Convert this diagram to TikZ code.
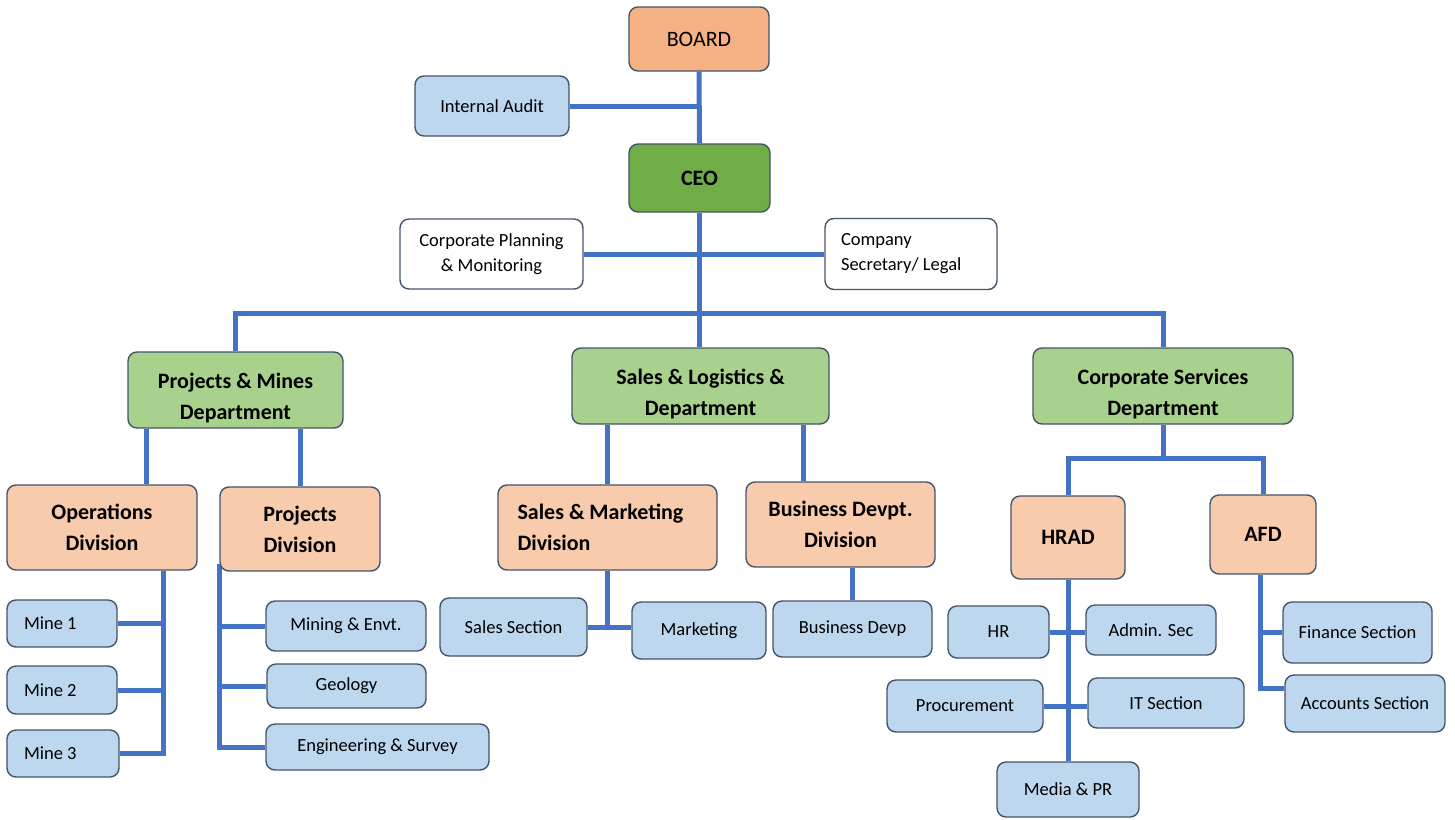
\documentclass[tikz,border=0pt]{standalone}
\usepackage{fontspec}
\setmainfont{Carlito}
\usetikzlibrary{backgrounds}
\definecolor{linec}{HTML}{4472C4}
\definecolor{bordc}{HTML}{44546A}
\definecolor{orgA}{HTML}{F4B183}
\definecolor{orgB}{HTML}{F8CBAD}
\definecolor{grnA}{HTML}{70AD47}
\definecolor{grnB}{HTML}{A9D18E}
\definecolor{bluA}{HTML}{BDD7EE}
\newcommand{\lowstrut}{\rule{0pt}{32pt}}
\begin{document}
\begin{tikzpicture}[x=1pt,y=-1pt,
  box/.style={draw=bordc, line width=1.4pt, rounded corners=9pt, align=center, inner sep=2pt,
    font=\fontsize{18.5}{25}\selectfont, text=black},
  bbox/.style={box, font=\fontsize{22}{31}\selectfont\bfseries},
  conn/.style={draw=linec, line width=5pt},
  sz/.style 2 args={minimum width=#1pt, minimum height=#2pt},
  lft/.style 2 args={text width=#1pt, align=flush left, inner xsep=#2pt},
]
\useasboundingbox (0,0) rectangle (1455,819);

% top
\node[box, fill=orgA, font=\fontsize{22}{26}\selectfont, sz={140}{64}] (board) at (699,39) {BOARD};
\node[box, fill=bluA, sz={154}{60}] (audit) at (492,106) {Internal Audit};
\node[bbox, fill=grnA, sz={141}{68}] (ceo) at (699.5,178) {CEO};
\node[box, fill=white, sz={183}{70}] (cpm) at (491.5,254) {Corporate Planning\\\& Monitoring};
\node[box, fill=white, sz={172}{71}, lft={140}{16}] (csl) at (911,254) {Company\\Secretary/ Legal};

% departments
\node[bbox, fill=grnB, sz={215}{76}] (pmd) at (235.5,390) {\lowstrut Projects \& Mines\\Department};
\node[bbox, fill=grnB, sz={257}{76}] (sld) at (700.5,386) {\lowstrut Sales \& Logistics \&\\Department};
\node[bbox, fill=grnB, sz={260}{76}] (csd) at (1163,386) {\lowstrut Corporate Services\\Department};

% divisions
\node[bbox, fill=orgB, sz={190}{85}] (opd) at (102,527.5) {Operations\\Division};
\node[bbox, fill=orgB, sz={160}{84}] (prd) at (300,529) {Projects\\Division};
\node[bbox, fill=orgB, sz={219}{85}, lft={180}{19.5}] (smd) at (607.5,527.5) {Sales \& Marketing\\Division};
\node[bbox, fill=orgB, sz={189}{85}] (bdd) at (840.5,524.5) {Business Devpt.\\Division};
\node[bbox, fill=orgB, sz={114}{83}] (hrad) at (1068,537.5) {HRAD};
\node[bbox, fill=orgB, sz={106}{79}] (afd) at (1263,534.5) {AFD};

% sections
\node[box, fill=bluA, sz={110}{47}, lft={76}{17}] (mine1) at (62,623.5) {Mine 1};
\node[box, fill=bluA, sz={110}{48}, lft={76}{17}] (mine2) at (62,690) {Mine 2};
\node[box, fill=bluA, sz={112}{47}, lft={78}{17}] (mine3) at (63,753.5) {Mine 3};
\node[box, fill=bluA, sz={160}{50}] (mining) at (346,626) {Mining \& Envt.};
\node[box, fill=bluA, sz={159}{44}] (geology) at (346.5,686) {Geology};
\node[box, fill=bluA, sz={223}{46}] (eng) at (377.5,747) {Engineering \& Survey};
\node[box, fill=bluA, sz={147}{58}] (sales) at (513.5,627) {Sales Section};
\node[box, fill=bluA, sz={134}{57}] (mkt) at (699,630.5) {Marketing};
\node[box, fill=bluA, sz={159}{56}] (busdevp) at (852.5,629) {Business Devp};
\node[box, fill=bluA, sz={101}{52}] (hr) at (998.5,632) {HR};
\node[box, fill=bluA, sz={130}{50}] (admin) at (1151,630) {Admin. Sec};
\node[box, fill=bluA, sz={156}{52}] (proc) at (965,706) {Procurement};
\node[box, fill=bluA, sz={156}{50}] (it) at (1166,703) {IT Section};
\node[box, fill=bluA, sz={142}{55}] (media) at (1068,789.5) {Media \& PR};
\node[box, fill=bluA, sz={149}{61}] (finance) at (1357.5,632.5) {Finance Section};
\node[box, fill=bluA, sz={160}{57}] (accounts) at (1365,703.5) {Accounts Section};

% helper coordinates
\coordinate (bus) at (700,313);
\coordinate (cbus) at (1163,458);
\coordinate (xo) at (146,0);
\coordinate (xb) at (803,0);
\coordinate (xop) at (163,0);
\coordinate (xaf) at (1260,0);

\begin{pgfonlayer}{background}
\draw[conn] (board.south) -- (ceo.north);
\draw[conn] (audit.east) -- (audit.east -| board.south);
\draw[conn] (ceo.south) -- (ceo.south |- sld.north);
\draw[conn] (cpm.east) -- (cpm.east -| csl.west);
\draw[conn] (pmd.north) |- (bus) -| (csd.north);
% projects & mines
\draw[conn] (pmd.south -| xo) -- (opd.north -| xo);
\draw[conn] (pmd.south -| prd.north) -- (prd.north);
\draw[conn] (opd.south -| xop) |- (mine3.east);
\draw[conn] (mine1.east) -- (mine1.east -| xop);
\draw[conn] (mine2.east) -- (mine2.east -| xop);
\draw[conn] ([yshift=8pt]prd.south west) |- (eng.west);
\draw[conn] (mining.west) -- (mining.west -| prd.west);
\draw[conn] (geology.west) -- (geology.west -| prd.west);
% sales & logistics
\draw[conn] (smd.north) -- (smd.north |- sld.south);
\draw[conn] (sld.south -| xb) -- (bdd.north -| xb);
\draw[conn] (smd.south) -- (smd.south |- sales.east);
\draw[conn] (sales.east) -- (sales.east -| mkt.west);
\draw[conn] (busdevp.north) -- (busdevp.north |- bdd.south);
% corporate services
\draw[conn] (csd.south) -- (cbus);
\draw[conn] (hrad.north) |- (cbus) -| (afd.north);
\draw[conn] (hrad.south) -- (hrad.south |- media.north);
\draw[conn] (hr.east) -- (hr.east -| admin.west);
\draw[conn] (proc.east) -- (proc.east -| it.west);
\draw[conn] (afd.south -| xaf) |- ([yshift=15pt]accounts.west);
\draw[conn] (finance.west) -- (finance.west -| xaf);
\end{pgfonlayer}
\end{tikzpicture}
\end{document}
